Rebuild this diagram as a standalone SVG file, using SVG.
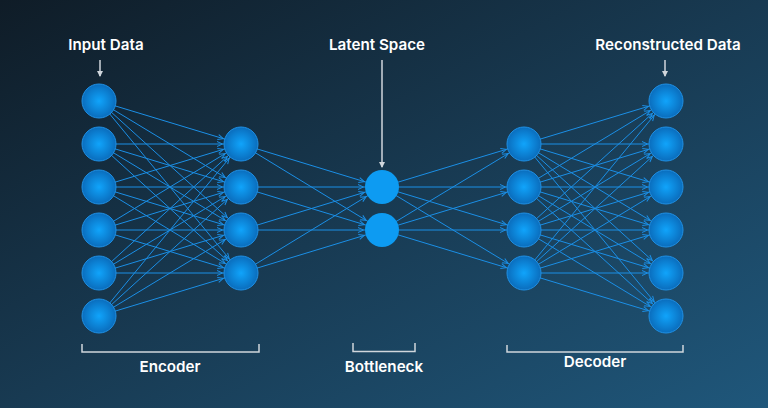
<svg xmlns="http://www.w3.org/2000/svg" width="768" height="408" viewBox="0 0 768 408">
<defs>
<linearGradient id="bg" x1="0" y1="0" x2="1" y2="1">
<stop offset="0" stop-color="#0f1c27"/>
<stop offset="0.5" stop-color="#183a52"/>
<stop offset="1" stop-color="#1f577b"/>
</linearGradient>
<radialGradient id="node" cx="0.5" cy="0.5" r="0.5">
<stop offset="0" stop-color="#10a4fb"/>
<stop offset="1" stop-color="#0a6dbd"/>
</radialGradient>
<marker id="ah" viewBox="0 0 6 6" refX="24" refY="3" markerWidth="6" markerHeight="6" markerUnits="userSpaceOnUse" orient="auto" overflow="visible">
<path d="M0,0.5 L5.5,3 L0,5.5" fill="none" stroke="#1b8fe6" stroke-width="1"/>
</marker>
<marker id="wa" viewBox="0 0 6 6" refX="5" refY="3" markerWidth="6" markerHeight="6" markerUnits="userSpaceOnUse" orient="auto">
<path d="M0,0 L6,3 L0,6 Z" fill="#d0d6dc"/>
</marker>
</defs>
<style>
.c{stroke:#1b8fe6;stroke-width:1;fill:none;marker-end:url(#ah)}
.n{fill:url(#node);stroke:#1f90e4;stroke-width:1}
.lat{fill:#0d9bf2}
.t{font-family:Inter,"Liberation Sans",sans-serif;font-weight:600;font-size:15.2px;fill:#ffffff;text-anchor:middle}
.br{fill:none;stroke:#d0d6dc;stroke-width:1.5}
.pt{stroke:#d0d6dc;stroke-width:1.5;fill:none;marker-end:url(#wa)}
</style>
<rect width="768" height="408" fill="url(#bg)"/>
<g id="connectors">
<line class="c" x1="99" y1="101" x2="241" y2="144"/><line class="c" x1="99" y1="101" x2="241" y2="187"/><line class="c" x1="99" y1="101" x2="241" y2="230"/><line class="c" x1="99" y1="101" x2="241" y2="273"/>
<line class="c" x1="99" y1="144" x2="241" y2="144"/><line class="c" x1="99" y1="144" x2="241" y2="187"/><line class="c" x1="99" y1="144" x2="241" y2="230"/><line class="c" x1="99" y1="144" x2="241" y2="273"/>
<line class="c" x1="99" y1="187" x2="241" y2="144"/><line class="c" x1="99" y1="187" x2="241" y2="187"/><line class="c" x1="99" y1="187" x2="241" y2="230"/><line class="c" x1="99" y1="187" x2="241" y2="273"/>
<line class="c" x1="99" y1="230" x2="241" y2="144"/><line class="c" x1="99" y1="230" x2="241" y2="187"/><line class="c" x1="99" y1="230" x2="241" y2="230"/><line class="c" x1="99" y1="230" x2="241" y2="273"/>
<line class="c" x1="99" y1="273" x2="241" y2="144"/><line class="c" x1="99" y1="273" x2="241" y2="187"/><line class="c" x1="99" y1="273" x2="241" y2="230"/><line class="c" x1="99" y1="273" x2="241" y2="273"/>
<line class="c" x1="99" y1="316" x2="241" y2="144"/><line class="c" x1="99" y1="316" x2="241" y2="187"/><line class="c" x1="99" y1="316" x2="241" y2="230"/><line class="c" x1="99" y1="316" x2="241" y2="273"/>
<line class="c" x1="241" y1="144" x2="382" y2="187"/><line class="c" x1="241" y1="144" x2="382" y2="230"/>
<line class="c" x1="241" y1="187" x2="382" y2="187"/><line class="c" x1="241" y1="187" x2="382" y2="230"/>
<line class="c" x1="241" y1="230" x2="382" y2="187"/><line class="c" x1="241" y1="230" x2="382" y2="230"/>
<line class="c" x1="241" y1="273" x2="382" y2="187"/><line class="c" x1="241" y1="273" x2="382" y2="230"/>
<line class="c" x1="382" y1="187" x2="524" y2="144"/><line class="c" x1="382" y1="187" x2="524" y2="187"/><line class="c" x1="382" y1="187" x2="524" y2="230"/><line class="c" x1="382" y1="187" x2="524" y2="273"/>
<line class="c" x1="382" y1="230" x2="524" y2="144"/><line class="c" x1="382" y1="230" x2="524" y2="187"/><line class="c" x1="382" y1="230" x2="524" y2="230"/><line class="c" x1="382" y1="230" x2="524" y2="273"/>
<line class="c" x1="524" y1="144" x2="666" y2="101"/><line class="c" x1="524" y1="144" x2="666" y2="144"/><line class="c" x1="524" y1="144" x2="666" y2="187"/><line class="c" x1="524" y1="144" x2="666" y2="230"/><line class="c" x1="524" y1="144" x2="666" y2="273"/><line class="c" x1="524" y1="144" x2="666" y2="316"/>
<line class="c" x1="524" y1="187" x2="666" y2="101"/><line class="c" x1="524" y1="187" x2="666" y2="144"/><line class="c" x1="524" y1="187" x2="666" y2="187"/><line class="c" x1="524" y1="187" x2="666" y2="230"/><line class="c" x1="524" y1="187" x2="666" y2="273"/><line class="c" x1="524" y1="187" x2="666" y2="316"/>
<line class="c" x1="524" y1="230" x2="666" y2="101"/><line class="c" x1="524" y1="230" x2="666" y2="144"/><line class="c" x1="524" y1="230" x2="666" y2="187"/><line class="c" x1="524" y1="230" x2="666" y2="230"/><line class="c" x1="524" y1="230" x2="666" y2="273"/><line class="c" x1="524" y1="230" x2="666" y2="316"/>
<line class="c" x1="524" y1="273" x2="666" y2="101"/><line class="c" x1="524" y1="273" x2="666" y2="144"/><line class="c" x1="524" y1="273" x2="666" y2="187"/><line class="c" x1="524" y1="273" x2="666" y2="230"/><line class="c" x1="524" y1="273" x2="666" y2="273"/><line class="c" x1="524" y1="273" x2="666" y2="316"/>
<line class="pt" x1="100" y1="60" x2="100" y2="76"/>
<line class="pt" x1="382" y1="60" x2="382" y2="167"/>
<line class="pt" x1="665" y1="60" x2="665" y2="76"/>
</g>
<g id="input-layer">
<circle class="n" cx="99" cy="101" r="17"/><circle class="n" cx="99" cy="144" r="17"/><circle class="n" cx="99" cy="187" r="17"/><circle class="n" cx="99" cy="230" r="17"/><circle class="n" cx="99" cy="273" r="17"/><circle class="n" cx="99" cy="316" r="17"/>
</g>
<g id="encoder-layer">
<circle class="n" cx="241" cy="144" r="17"/><circle class="n" cx="241" cy="187" r="17"/><circle class="n" cx="241" cy="230" r="17"/><circle class="n" cx="241" cy="273" r="17"/>
</g>
<g id="latent-layer">
<circle class="lat" cx="382" cy="187" r="17"/><circle class="lat" cx="382" cy="230" r="17"/>
</g>
<g id="decoder-layer">
<circle class="n" cx="524" cy="144" r="17"/><circle class="n" cx="524" cy="187" r="17"/><circle class="n" cx="524" cy="230" r="17"/><circle class="n" cx="524" cy="273" r="17"/>
</g>
<g id="output-layer">
<circle class="n" cx="666" cy="101" r="17"/><circle class="n" cx="666" cy="144" r="17"/><circle class="n" cx="666" cy="187" r="17"/><circle class="n" cx="666" cy="230" r="17"/><circle class="n" cx="666" cy="273" r="17"/><circle class="n" cx="666" cy="316" r="17"/>
</g>
<g id="labels">
<text class="t" x="106" y="50">Input Data</text>
<text class="t" x="377" y="50">Latent Space</text>
<text class="t" x="668" y="50">Reconstructed Data</text>
</g>
<g id="encoder-bracket">
<path class="br" d="M82,344 V352 H259 V344"/>
<text class="t" x="170" y="372">Encoder</text>
</g>
<g id="bottleneck-bracket">
<path class="br" d="M353,343 V351.5 H415 V343"/>
<text class="t" x="384" y="372">Bottleneck</text>
</g>
<g id="decoder-bracket">
<path class="br" d="M507,345 V352 H683 V345"/>
<text class="t" x="595" y="367">Decoder</text>
</g>
</svg>
